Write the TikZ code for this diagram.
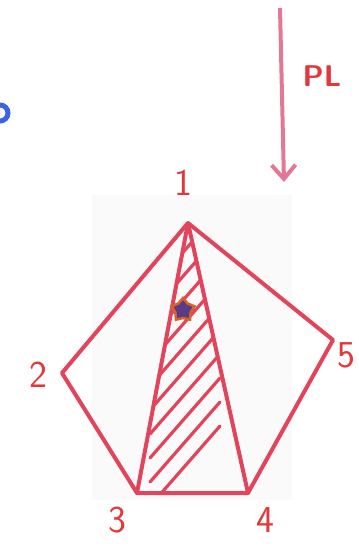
\documentclass[tikz,border=0pt]{standalone}
\usepackage{tikz}
\usetikzlibrary{arrows.meta,shapes.geometric}
\definecolor{penred}{HTML}{E2445C}
\definecolor{penpink}{HTML}{E37796}
\definecolor{labred}{HTML}{E2383C}
\definecolor{penblue}{HTML}{3A63E6}
\definecolor{starpurple}{HTML}{5A3C86}
\definecolor{starorange}{HTML}{D8632A}

\begin{document}
\begin{tikzpicture}[x=1pt,y=-1pt,
  edge/.style={draw=penred,line width=4pt,line cap=round,line join=round},
  hatch/.style={draw=penred,line width=3.2pt,line cap=round},
  vlabel/.style={text=labred,font=\sffamily\fontsize{38}{38}\selectfont,inner sep=0pt}]
\useasboundingbox (0,0) rectangle (359,550);
\fill[black!2] (92,195) rectangle (292,500);
% vertices
\coordinate (v1) at (188,223);
\coordinate (v2) at (62,373);
\coordinate (v3) at (137,493);
\coordinate (v4) at (248,493);
\coordinate (v5) at (333,340);
% hatching of triangle 1-3-4
\begin{scope}
\clip (v1) -- (v3) -- (v4) -- cycle;
\foreach \k in {0,...,9}
  \draw[hatch] (150,{290+24*\k}) -- ++(70,-80);
\end{scope}
% outline
\draw[edge] (v1) -- (v2) -- (v3) -- (v4) -- (v5) -- cycle;
\draw[edge] (v3) -- (v1) -- (v4);
% labels
\node[vlabel] (l1) at (183,183) {1};
\node[vlabel] (l2) at (38,375) {2};
\node[vlabel] (l3) at (117,520) {3};
\node[vlabel] (l4) at (265,520) {4};
\node[vlabel] (l5) at (346,355) {5};
% star
\node[star,star points=5,fill=starpurple,draw=starorange,line width=2.5pt,minimum size=24pt,inner sep=0pt] (mark) at (183,310) {};
% PL arrow
\coordinate (plA) at (280,8);
\coordinate (plB) at (284,182);
\draw[draw=penpink,line width=4pt,->,>={Straight Barb[length=14pt,width=24pt]}] (plA) -- (plB);
\node[text=labred,font=\sffamily\bfseries\fontsize{30}{30}\selectfont,inner sep=0pt] (pl) at (322,76) {PL};
% blue mark at left edge
\draw[penblue,line width=5pt] (0,113) circle (8);
\end{tikzpicture}
\end{document}
